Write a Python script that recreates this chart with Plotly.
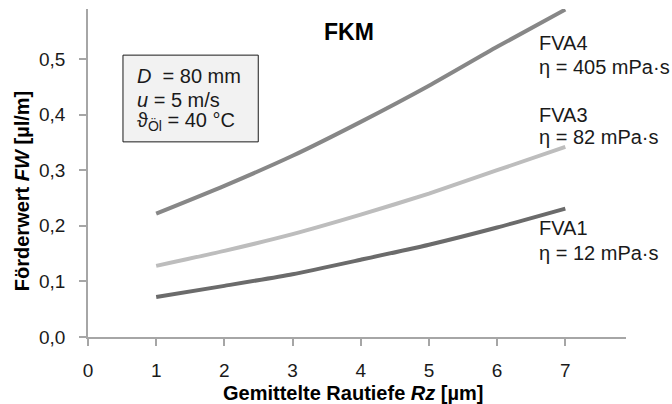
import plotly.graph_objects as go

# Mean roughness depth Rz [µm]
rz = [1, 2, 3, 4, 5, 6, 7]

# Pumping rate FW [µl/m] for three oils on FKM seals
fw_fva4 = [0.222, 0.272, 0.326, 0.387, 0.452, 0.522, 0.589]
fw_fva3 = [0.128, 0.155, 0.185, 0.220, 0.258, 0.300, 0.342]
fw_fva1 = [0.072, 0.092, 0.113, 0.139, 0.166, 0.197, 0.231]

series_names = ["FVA4", "FVA3", "FVA1"]
series_labels = ["η = 405 mPa·s", "η = 82 mPa·s", "η = 12 mPa·s"]
series_colors = ["#878787", "#bdbdbd", "#6b6b6b"]

x_ticks = [0, 1, 2, 3, 4, 5, 6, 7]
y_ticks = [0.0, 0.1, 0.2, 0.3, 0.4, 0.5]

FONT = "Liberation Sans, Arial, sans-serif"
AXIS_GREY = "#a6a6a6"

fig = go.Figure()
for name, ys, col in zip(series_names, [fw_fva4, fw_fva3, fw_fva1], series_colors):
    fig.add_trace(go.Scatter(
        x=rz, y=ys, mode="lines", name=name,
        line=dict(color=col, width=4, shape="spline", smoothing=0.6),
        showlegend=False,
    ))

annotations = []
# Curve labels to the right of each line
label_pos = [(43, 67), (115, 137), (228, 253)]
for name, lab, (y1, y2) in zip(series_names, series_labels, label_pos):
    for txt, py in ((name, y1), (lab, y2)):
        annotations.append(dict(
            text=txt, x=6.59, xref="x", y=(337 - py) / 328, yref="paper",
            xanchor="left", yanchor="middle", showarrow=False,
            font=dict(family=FONT, size=20, color="#1a1a1a"),
        ))

# Operating conditions inside the framed box
box_lines = [
    ("<i>D</i>  = 80 mm", 76),
    ("<i>u</i> = 5 m/s", 100),
    ("ϑ<sub>Öl</sub> = 40 °C", 122),
]
for txt, py in box_lines:
    annotations.append(dict(
        text=txt, x=0.69, xref="x", y=(337 - py) / 328, yref="paper",
        xanchor="left", yanchor="middle", showarrow=False,
        font=dict(family=FONT, size=20, color="#1a1a1a"),
    ))

# Title
annotations.append(dict(
    text="<b>FKM</b>", x=(349 - 88) / 538, xref="paper", y=(337 - 31.5) / 328, yref="paper",
    xanchor="center", yanchor="middle", showarrow=False,
    font=dict(family=FONT, size=23, color="#000000"),
))
# Axis titles
annotations.append(dict(
    text="<b>Gemittelte Rautiefe <i>Rz</i> [µm]</b>", x=(352.5 - 88) / 538, xref="paper",
    y=(337 - 393) / 328, yref="paper", xanchor="center", yanchor="middle", showarrow=False,
    font=dict(family=FONT, size=20, color="#000000"),
))
annotations.append(dict(
    text="<b>Förderwert <i>FW</i> [µl/m]</b>", x=(21.7 - 88) / 538, xref="paper",
    y=(337 - 191.5) / 328, yref="paper", xanchor="center", yanchor="middle", showarrow=False,
    textangle=-90, font=dict(family=FONT, size=20, color="#000000"),
))

fig.update_layout(
    width=672, height=404,
    margin=dict(l=88, r=46, t=9, b=67),
    paper_bgcolor="white", plot_bgcolor="white",
    separators=", ",
    font=dict(family=FONT, size=19, color="#1a1a1a"),
    annotations=annotations,
    shapes=[dict(
        type="rect", xref="x", yref="y",
        x0=0.513, x1=2.497, y0=0.351, y1=0.507,
        fillcolor="#f2f2f2", line=dict(color="#1a1a1a", width=1), layer="below",
    )],
)
fig.update_xaxes(
    range=[0, 7.89], tickvals=x_ticks, showgrid=False, zeroline=False,
    showline=True, linecolor=AXIS_GREY, linewidth=1.5,
    ticks="outside", ticklen=7, tickcolor=AXIS_GREY, tickwidth=1.5,
    tickfont=dict(family=FONT, size=19, color="#1a1a1a"), ticklabelstandoff=8,
)
fig.update_yaxes(
    range=[0, 0.59], tickvals=y_ticks, tickformat=".1f", showgrid=False, zeroline=False,
    showline=True, linecolor=AXIS_GREY, linewidth=1.5,
    ticks="outside", ticklen=7, tickcolor=AXIS_GREY, tickwidth=1.5,
    tickfont=dict(family=FONT, size=19, color="#1a1a1a"), ticklabelstandoff=10,
)

fig.write_html("out.html")
